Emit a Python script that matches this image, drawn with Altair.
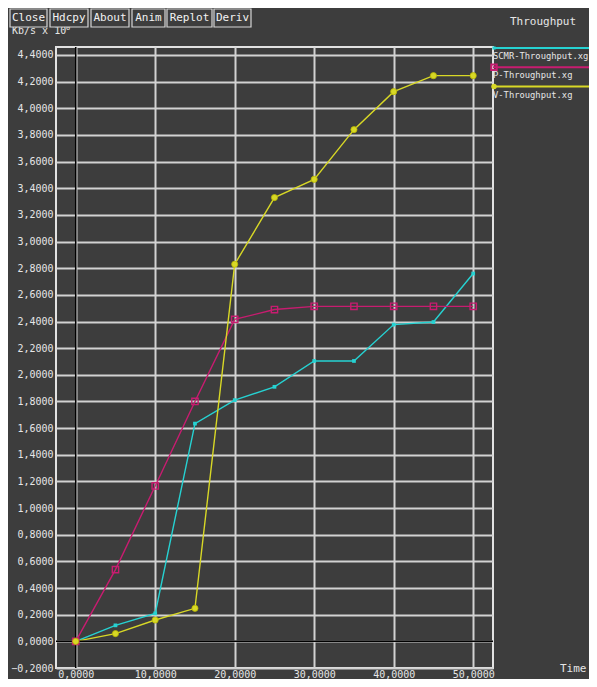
import altair as alt
import pandas as pd

# ---------------- data ----------------
times = [0, 5, 10, 15, 20, 25, 30, 35, 40, 45, 50]
scmr = [0.0, 0.12, 0.21, 1.634, 1.81, 1.91, 2.104, 2.104, 2.377, 2.396, 2.76]
p_thr = [0.0, 0.538, 1.166, 1.80, 2.416, 2.49, 2.514, 2.514, 2.514, 2.514, 2.514]
v_thr = [0.0, 0.058, 0.16, 0.248, 2.83, 3.33, 3.467, 3.84, 4.125, 4.245, 4.245]
series_names = ["SCMR-Throughput.xg", "P-Throughput.xg", "V-Throughput.xg"]
series_colors = ["#26d2d2", "#c81c70", "#d8d826"]
x_ticks = [0, 10, 20, 30, 40, 50]
y_ticks = [-0.2, 0.0, 0.2, 0.4, 0.6, 0.8, 1.0, 1.2, 1.4, 1.6, 1.8, 2.0, 2.2,
           2.4, 2.6, 2.8, 3.0, 3.2, 3.4, 3.6, 3.8, 4.0, 4.2, 4.4]
buttons = ["Close", "Hdcpy", "About", "Anim", "Replot", "Deriv"]
button_edges = [(-46, -9), (-6, 32), (35, 73), (76, 109), (111, 156), (158, 195)]
title_text = "Throughput"
y_unit = "Kb/s x 10"
x_unit = "Time"

rows = []
for name, vals in zip(series_names, [scmr, p_thr, v_thr]):
    for t, v in zip(times, vals):
        rows.append({"t": t, "v": v, "s": name})
df = pd.DataFrame(rows)

BG = "#3d3d3d"
FG = "#e6e6e6"
MONO = "DejaVu Sans Mono"
W, H = 437, 621

xs = alt.Scale(domain=[-2.48, 52.49], nice=False, zero=False)
ys = alt.Scale(domain=[-0.2, 4.46], nice=False, zero=False)
lab = "replace(format(datum.value, '.4f'), '.', ',')"

xaxis = alt.Axis(values=x_ticks, grid=True, gridColor="#d2d2d2", gridWidth=2,
                 ticks=False, domain=False, title=None, labelExpr=lab, labelOverlap=False,
                 labelFont=MONO, labelFontSize=10, labelColor=FG, labelPadding=1,
                 labelBaseline="top")
yaxis = alt.Axis(values=y_ticks, grid=True, gridColor="#d2d2d2", gridWidth=2,
                 ticks=False, domain=False, title=None, labelExpr=lab, labelOverlap=False,
                 labelFont=MONO, labelFontSize=10, labelColor=FG, labelPadding=3,
                 labelSeparation=0)

cscale = alt.Scale(domain=series_names, range=series_colors)

lines = alt.Chart(df).mark_line(strokeWidth=1.4).encode(
    x=alt.X("t:Q", scale=xs, axis=xaxis),
    y=alt.Y("v:Q", scale=ys, axis=yaxis),
    color=alt.Color("s:N", scale=cscale, legend=None),
    detail="s:N",
)

zero = pd.DataFrame({"z": [0]})
zx = alt.Chart(zero).mark_rule(color="black", strokeWidth=1.5).encode(
    x=alt.X("z:Q", scale=xs, axis=xaxis))
zy = alt.Chart(zero).mark_rule(color="black", strokeWidth=1.5).encode(
    y=alt.Y("z:Q", scale=ys, axis=yaxis))

def enc(ch):
    return ch.encode(x=alt.X("t:Q", scale=xs, axis=xaxis), y=alt.Y("v:Q", scale=ys, axis=yaxis))

pts_c = enc(alt.Chart(df).transform_filter(alt.datum.s == series_names[0]).mark_square(
    size=14, color=series_colors[0], opacity=1))
pts_p = enc(alt.Chart(df).transform_filter(alt.datum.s == series_names[1]).mark_point(
    shape="square", filled=False, size=40, strokeWidth=1.4, color=series_colors[1], opacity=1))
pts_v = enc(alt.Chart(df).transform_filter(alt.datum.s == series_names[2]).mark_circle(
    size=38, color=series_colors[2], opacity=1, stroke="#b8b800", strokeWidth=0.8))

dummy = pd.DataFrame({"a": [0]})
deco = []

# legend (xgraph style: coloured line over each file name)
for i, (name, col) in enumerate(zip(series_names, series_colors)):
    ly = 1 + i * 19.3
    deco.append(alt.Chart(dummy).mark_rule(color=col, strokeWidth=2).encode(
        x=alt.value(437), x2=alt.value(545), y=alt.value(ly)))
    deco.append(alt.Chart(dummy).mark_text(align="left", baseline="middle", font=MONO,
                                            fontSize=8.8, color=FG).encode(
        x=alt.value(437), y=alt.value(ly + 8), text=alt.value(name)))
deco.append(alt.Chart(dummy).mark_square(size=10, color=series_colors[0], opacity=1).encode(
    x=alt.value(438), y=alt.value(1)))
deco.append(alt.Chart(dummy).mark_point(shape="square", filled=False, size=30,
                                         color=series_colors[1], opacity=1).encode(
    x=alt.value(438), y=alt.value(20.3)))
deco.append(alt.Chart(dummy).mark_circle(size=30, color=series_colors[2], opacity=1).encode(
    x=alt.value(438), y=alt.value(39.6)))

# window title and unit labels
deco.append(alt.Chart(dummy).mark_text(align="center", baseline="middle", font=MONO,
                                        fontSize=11, color=FG).encode(
    x=alt.value(487), y=alt.value(-25), text=alt.value(title_text)))
deco.append(alt.Chart(dummy).mark_text(align="left", baseline="middle", font=MONO,
                                        fontSize=11, color=FG).encode(
    x=alt.value(504), y=alt.value(622), text=alt.value(x_unit)))
deco.append(alt.Chart(dummy).mark_text(align="left", baseline="alphabetic", font=MONO,
                                        fontSize=10, color=FG).encode(
    x=alt.value(-44), y=alt.value(-13), text=alt.value(y_unit)))
deco.append(alt.Chart(dummy).mark_text(align="left", baseline="alphabetic", font=MONO,
                                        fontSize=7, color=FG).encode(
    x=alt.value(10), y=alt.value(-17), text=alt.value("0")))

# buttons
for label, (x0, x1) in zip(buttons, button_edges):
    deco.append(alt.Chart(dummy).mark_rect(fill=BG, stroke="#d6d6d6", strokeWidth=1.2).encode(
        x=alt.value(x0), x2=alt.value(x1), y=alt.value(-38), y2=alt.value(-20)))
    deco.append(alt.Chart(dummy).mark_text(align="center", baseline="middle", font=MONO,
                                            fontSize=11, color="#f2f2f2").encode(
        x=alt.value((x0 + x1) / 2), y=alt.value(-29), text=alt.value(label)))

chart = alt.layer(lines, zx, zy, pts_c, pts_p, pts_v, *deco).properties(
    width=W, height=H,
    padding={"left": 48, "top": 39, "right": 96, "bottom": 11},
    autosize=alt.AutoSizeParams(type="none"),
    background=BG,
).configure_view(stroke="#e2e2e2", strokeWidth=2).configure_axis(labelOverlap=False)

chart.save("out.html", embed_options={"renderer": "svg", "actions": False})
